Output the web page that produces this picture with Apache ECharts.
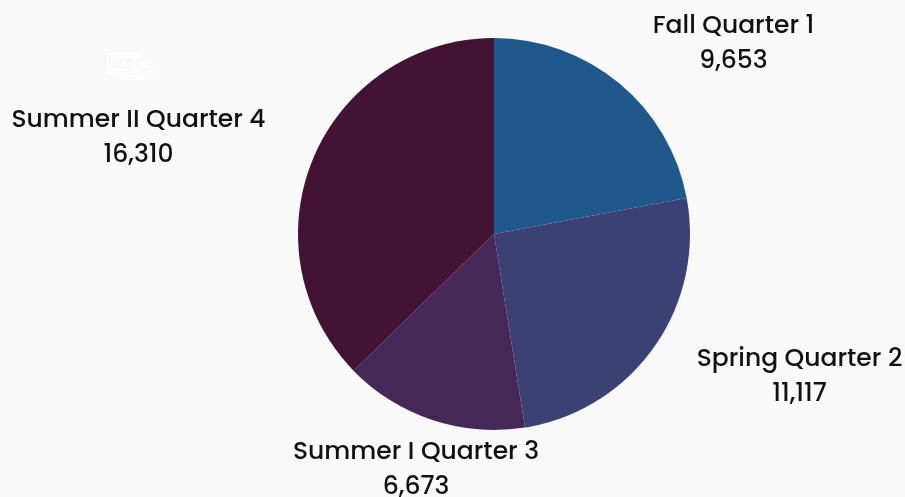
<!DOCTYPE html>
<html><head><meta charset="utf-8">
<style>html,body{margin:0;padding:0;background:#f9f9f9}#c{width:905px;height:497px}</style>
<script src="https://cdn.jsdelivr.net/npm/echarts@6/dist/echarts.min.js"></script>
</head><body><div id="c"></div>
<script>
const categories = ["Fall Quarter 1","Spring Quarter 2","Summer I Quarter 3","Summer II Quarter 4"];
const values = [9653,11117,6673,16310];
const colors = ["#20588c","#3c4175","#452858","#431336"];
const labelX = [733.5,799.5,416,138.5];
const labelY = [44.5,377.5,470.5,138.5];
const chart = echarts.init(document.getElementById('c'));
const stroke = {stroke:'#ffffff',fill:null,lineWidth:1.5};
chart.setOption({
  backgroundColor:'#f9f9f9',
  animation:false,
  graphic:[
    {type:'rect',shape:{x:122,y:63,width:30,height:16},style:stroke},
    {type:'rect',shape:{x:126,y:66,width:22,height:10},style:stroke},
    {type:'rect',shape:{x:108,y:54,width:30,height:19},style:{stroke:'#ffffff',fill:'#f9f9f9',lineWidth:1.5}},
    {type:'rect',shape:{x:111,y:57,width:24,height:13},style:stroke},
    {type:'text',style:{x:124,y:63.5,text:'$',fill:'#ffffff',font:'bold 9px sans-serif',align:'center',verticalAlign:'middle'}}
  ],
  series:[{
    type:'pie',
    center:[494,234],
    radius:[0,196],
    startAngle:90,
    clockwise:true,
    data:categories.map((n,i)=>({name:n,value:values[i],itemStyle:{color:colors[i]}})),
    label:{
      show:true,
      position:'outside',
      overflow:'none',
      formatter:p=>p.name+'\n'+p.value.toLocaleString('en-US'),
      fontFamily:'Poppins, Inter, "Open Sans", sans-serif',
      fontSize:25,
      fontWeight:500,
      lineHeight:35,
      color:'#111',
      align:'center'
    },
    labelLine:{show:false},
    labelLayout:function(p){
      const i=p.dataIndex;
      return {x:labelX[i],y:labelY[i],align:'center',verticalAlign:'middle'};
    }
  }]
});
</script></body></html>
